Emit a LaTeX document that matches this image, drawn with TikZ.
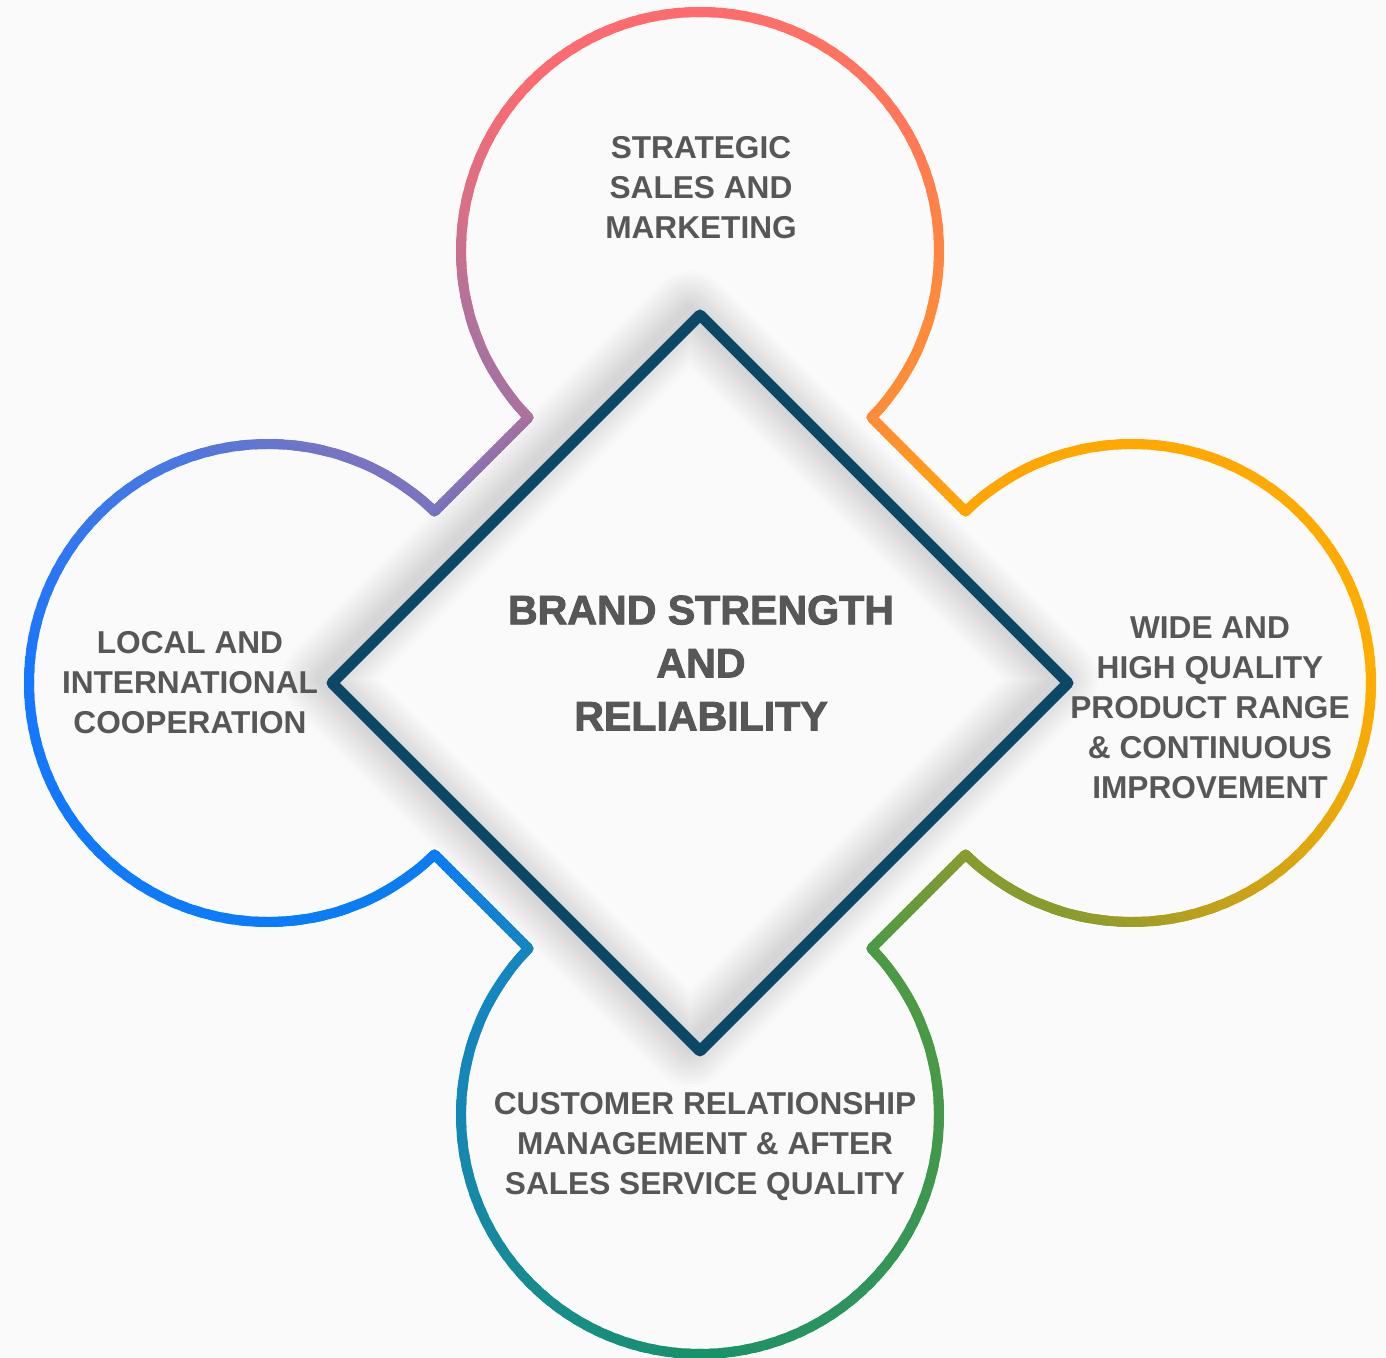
\documentclass[tikz,border=0pt]{standalone}
\usepackage{fontspec}
\setmainfont{Liberation Sans}
\newfontfamily\heavyfont[FakeBold=2.2]{Liberation Sans Bold}

\definecolor{bgcol}{HTML}{FAFAFA}
\definecolor{txtcol}{HTML}{575757}
\definecolor{navy}{HTML}{0C4766}
% ring colours, going round counterclockwise from the bottom
\definecolor{rgA}{HTML}{17916A}
\definecolor{rgB}{HTML}{4A9A45}
\definecolor{rgC}{HTML}{8C9C2C}
\definecolor{rgD}{HTML}{BFA11A}
\definecolor{rgE}{HTML}{E8A90A}
\definecolor{rgF}{HTML}{FFAD00}
\definecolor{rgG}{HTML}{FFA800}
\definecolor{rgH}{HTML}{FF8A3A}
\definecolor{rgI}{HTML}{FF7858}
\definecolor{rgJ}{HTML}{FF6B6E}
\definecolor{rgK}{HTML}{FA6B70}
\definecolor{rgL}{HTML}{D87085}
\definecolor{rgM}{HTML}{A872A2}
\definecolor{rgN}{HTML}{7A74C0}
\definecolor{rgO}{HTML}{4A78E2}
\definecolor{rgP}{HTML}{1677FF}
\definecolor{rgQ}{HTML}{0A7CF6}
\definecolor{rgR}{HTML}{1587B8}
\definecolor{rgS}{HTML}{168C90}

\tikzset{
  ring/.style={line width=10*0.2mm, line join=round},
  lbl/.style={text=txtcol, align=center, inner sep=0pt,
    font=\fontsize{18pt}{22.8pt}\selectfont\bfseries},
  bigtitle/.style={text=txtcol, align=center, inner sep=0pt,
    font=\heavyfont\fontsize{23.4pt}{30.2pt}\selectfont},
}

% outline of the four circles joined along the diamond
\newcommand{\ringpath}{([shift={(circT)}]-44.15:239)
  arc[start angle=-44.15, end angle=224.15, radius=239]
  -- ([shift={(circL)}]45.85:239)
  arc[start angle=45.85, end angle=314.15, radius=239]
  -- ([shift={(circB)}]135.85:239)
  arc[start angle=135.85, end angle=404.15, radius=239]
  -- ([shift={(circR)}]225.85:239)
  arc[start angle=225.85, end angle=494.15, radius=239]
  -- cycle}

\begin{document}
\begin{tikzpicture}[x=0.02cm, y=0.02cm]
\useasboundingbox (0,0) rectangle (1386,1358);
\fill[bgcol] (0,0) rectangle (1386,1358);

\coordinate (ctr) at (700,675);
\coordinate (circT) at (700,1107);
\coordinate (circB) at (700,243);
\coordinate (circL) at (268,675);
\coordinate (circR) at (1132,675);

% gradient ring, one thin wedge at a time
\foreach \a/\b/\ca/\cb in {-90/-57/rgA/rgB, -57/-31/rgB/rgC, -31/-24/rgC/rgD,
    -24/-12/rgD/rgE, -12/0/rgE/rgF, 0/32/rgF/rgG, 32/58/rgG/rgH, 58/70/rgH/rgI,
    70/90/rgI/rgJ, 90/107/rgJ/rgK, 107/117/rgK/rgL, 117/124/rgL/rgM,
    124/147/rgM/rgN, 147/157/rgN/rgO, 157/180/rgO/rgP, 180/212/rgP/rgQ,
    212/240/rgQ/rgR, 240/255/rgR/rgS, 255/270/rgS/rgA}{
  \pgfmathtruncatemacro{\n}{\b-(\a)}
  \foreach \k in {1,...,\n}{
    \pgfmathsetmacro{\p}{100*(\k-0.5)/\n}
    \pgfmathsetmacro{\s}{\a+\k-1.3}
    \pgfmathsetmacro{\e}{\a+\k+0.3}
    \begin{scope}
      \clip (ctr) -- ([shift={(ctr)}]\s:800) -- ([shift={(ctr)}]\e:800) -- cycle;
      \draw[ring, color=\cb!\p!\ca] \ringpath;
    \end{scope}
  }
}

% soft shadow of the diamond
\foreach \w in {80,74,...,14}
  \draw[black, opacity=0.011, line width=\w*0.2mm, line join=round]
    ([shift={(-10,4)}]ctr) ++(0,368) -- ++(368,-368) -- ++(-368,-368) -- ++(-368,368) -- cycle;

% diamond
\draw[navy, line width=11*0.2mm, line join=round]
  ([shift={(ctr)}]90:368) -- ([shift={(ctr)}]0:368) -- ([shift={(ctr)}]270:368)
  -- ([shift={(ctr)}]180:368) -- cycle;

\node[bigtitle] (brand) at (701,695) {BRAND STRENGTH\\AND\\RELIABILITY};
\node[lbl] (sales) at (701,1170) {STRATEGIC\\SALES AND\\MARKETING};
\node[lbl] (coop) at (190,675) {LOCAL AND\\INTERNATIONAL\\COOPERATION};
\node[lbl] (range) at (1210,650) {WIDE AND\\HIGH QUALITY\\PRODUCT RANGE\\\& CONTINUOUS\\IMPROVEMENT};
\node[lbl] (crm) at (705,211) {CUSTOMER RELATIONSHIP\\MANAGEMENT \& AFTER\\SALES SERVICE QUALITY};

\end{tikzpicture}
\end{document}
